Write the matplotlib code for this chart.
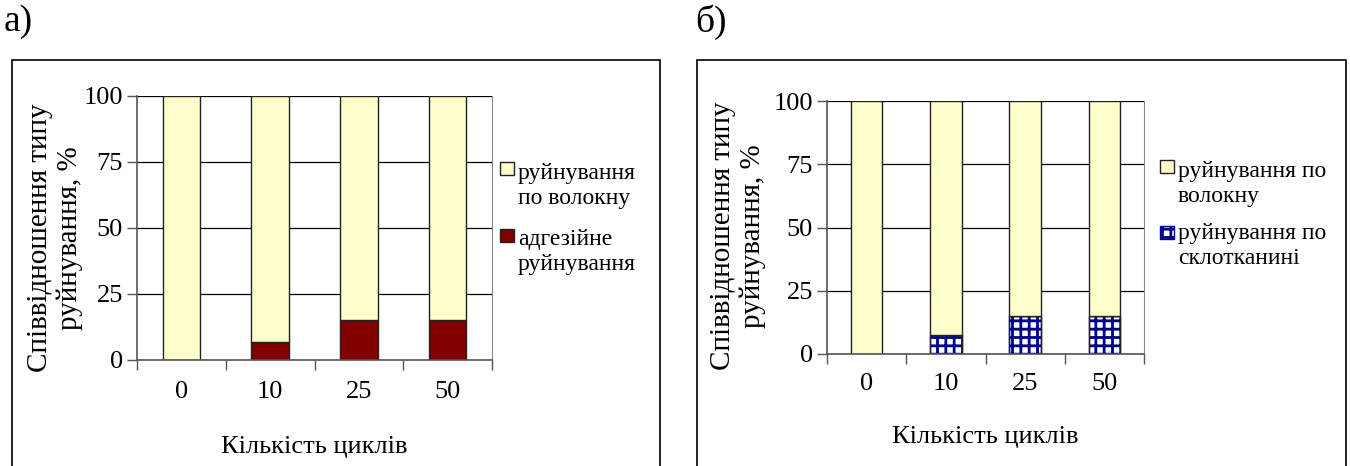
import matplotlib
matplotlib.use("Agg")
import matplotlib.pyplot as plt
from matplotlib.patches import Rectangle
import numpy as np

# ---- data ----
cycles = ["0", "10", "25", "50"]
fiber_a = [100, 93, 85, 85]        # руйнування по волокну (а)
adhesive_a = [0, 7, 15, 15]        # адгезійне руйнування (а)
fiber_b = [100, 92.5, 85, 85]      # руйнування по волокну (б)
glass_b = [0, 7.5, 15, 15]         # руйнування по склотканині (б)
yticks = [0, 25, 50, 75, 100]

plt.rcParams["font.family"] = ["Liberation Serif", "DejaVu Serif"]
plt.rcParams["hatch.linewidth"] = 2.0

FIBER = "#FFFFCC"
ADH = "#800000"
NAVY = "#00008B"
W, H = 1350, 466

fig = plt.figure(figsize=(13.5, 4.66), dpi=100)


def px(x, y):
    # pixel position (from top-left) -> figure fraction
    return x / W, 1 - y / H


def setup_axes(ax):
    ax.set_ylim(0, 100)
    ax.set_xlim(-0.5, len(cycles) - 0.5)
    ax.set_yticks(yticks)
    ax.set_yticklabels([str(v) for v in yticks], fontsize=19)
    ax.yaxis.grid(True, color="#000000", linewidth=0.9)
    ax.set_axisbelow(True)
    ax.set_xticks(np.arange(len(cycles) + 1) - 0.5)
    ax.set_xticklabels([])
    ax.tick_params(axis="x", length=7, color="#555555", width=1)
    ax.tick_params(axis="y", length=7, color="#555555", width=1, pad=3)
    for i, c in enumerate(cycles):
        ax.text(i, -0.12, c, transform=ax.get_xaxis_transform(),
                ha="center", va="center", fontsize=19)
    ax.spines["top"].set_visible(False)
    ax.spines["right"].set_color("#888888")
    ax.spines["left"].set_color("#555555")
    ax.spines["bottom"].set_color("#555555")
    ax.spines["left"].set_linewidth(1.2)
    ax.spines["bottom"].set_linewidth(1.2)
    ax.text(0.5, -0.33, "Кількість циклів", transform=ax.transAxes,
            ha="center", va="center", fontsize=19)


x = np.arange(len(cycles))

# ---- panel а) ----
ax1 = fig.add_axes([137 / W, 1 - 360 / H, (492 - 137) / W, (360 - 96) / H])
bw1 = 0.42
ax1.bar(x, adhesive_a, bw1, color=ADH, edgecolor="#222222", linewidth=1)
ax1.bar(x, fiber_a, bw1, bottom=adhesive_a, color=FIBER,
        edgecolor="#222222", linewidth=1)
setup_axes(ax1)

# ---- panel б) ----
ax2 = fig.add_axes([827 / W, 1 - 354 / H, (1144 - 827) / W, (354 - 101) / H])
bw2 = 0.40
ax2.bar(x, glass_b, bw2, color="white", edgecolor=NAVY, hatch="++",
        linewidth=1)
ax2.bar(x, glass_b, bw2, color="none", edgecolor="#222222", linewidth=1)
ax2.bar(x, fiber_b, bw2, bottom=glass_b, color=FIBER,
        edgecolor="#222222", linewidth=1)
setup_axes(ax2)

# y labels (two lines, rotated)
for cx, cy in [(55, 238), (738, 236)]:
    fx, fy = px(cx, cy)
    fig.text(fx, fy, "Співвідношення типу\nруйнування, %", rotation=90,
             ha="center", va="center", fontsize=21, linespacing=1.15,
             multialignment="center")

# ---- frames and panel letters ----
for x0, x1 in [(12, 660), (697, 1346)]:
    fig.patches.append(Rectangle((x0 / W, -0.05), (x1 - x0) / W,
                                 1.05 - 60 / H, transform=fig.transFigure,
                                 fill=False, edgecolor="black", linewidth=1.2))
fig.text(*px(4, 22), "а)", fontsize=27, va="center")
fig.text(*px(695, 22), "б)", fontsize=27, va="center")


# ---- legends (manual, marker aligned to first line) ----
def legend_item(xm, ym, yt, face, text, hatch=None, edge="#222222"):
    w, h = 14 / W, 13 / H
    fig.patches.append(Rectangle((xm / W, 1 - ym / H - h / 2), w, h,
                                 transform=fig.transFigure, facecolor=face,
                                 edgecolor=edge, hatch=hatch, linewidth=1))
    fig.text(*px(xm + 18, yt), text, fontsize=17,
             va="center", ha="left", linespacing=1.22)


legend_item(500, 168, 186, FIBER, "руйнування\nпо волокну")
legend_item(500, 235, 252, ADH, "адгезійне\nруйнування")
legend_item(1160, 166, 184, FIBER, "руйнування по\nволокну")
legend_item(1160, 232, 246, "white", "руйнування по\nсклотканині", hatch="++",
            edge=NAVY)

fig.savefig("out.png", dpi=100)
